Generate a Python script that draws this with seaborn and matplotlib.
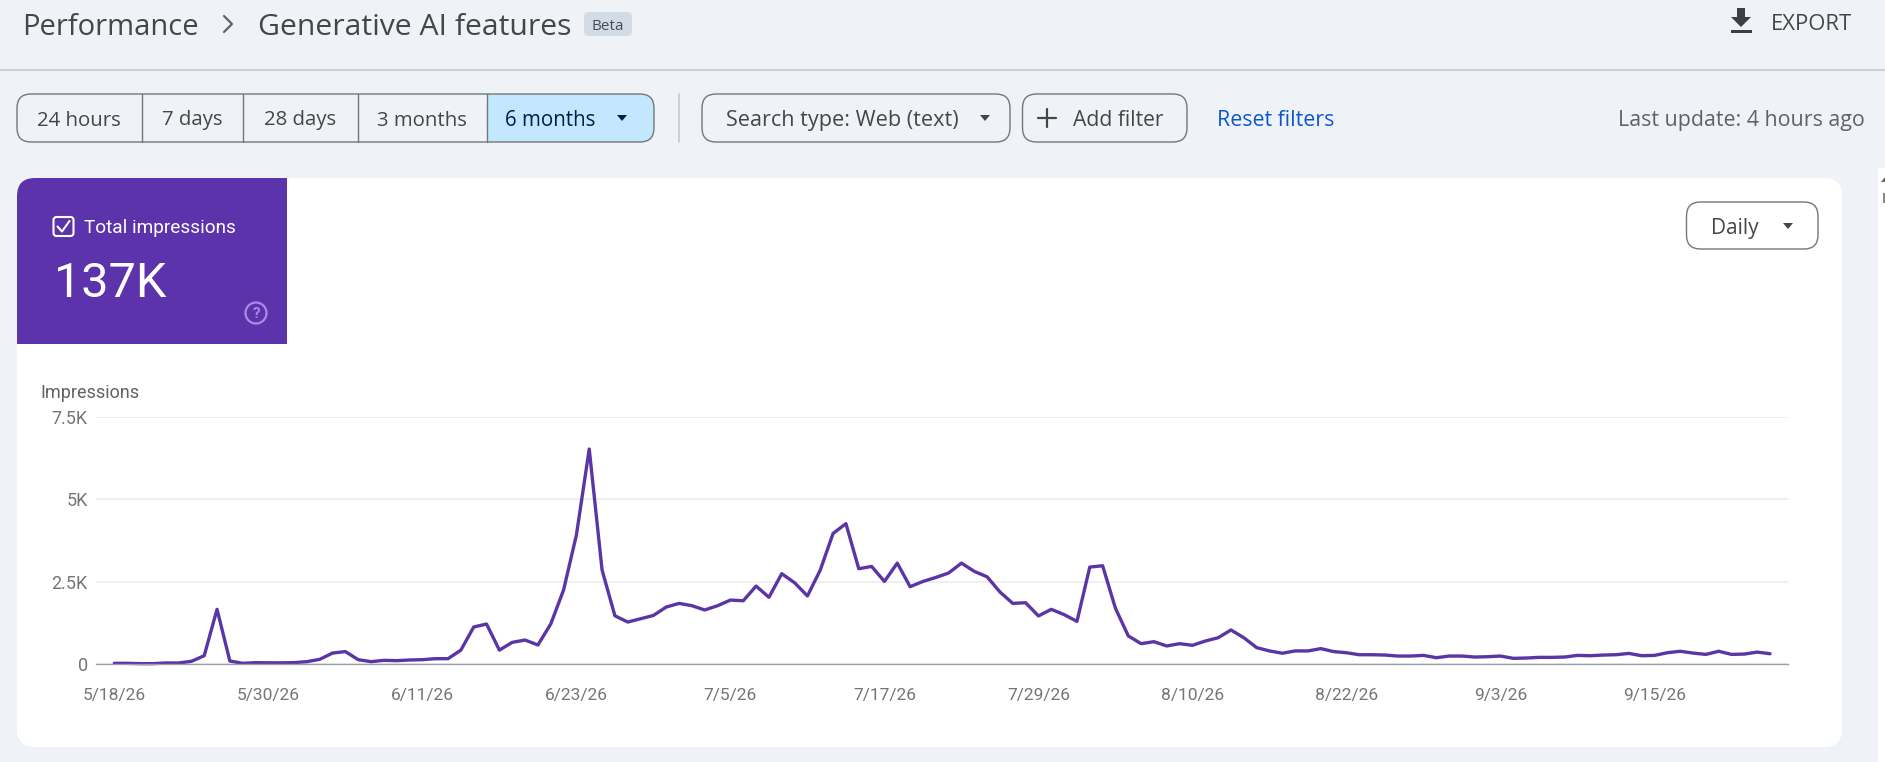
import pandas as pd
import numpy as np
import matplotlib
matplotlib.use('Agg')
import matplotlib.pyplot as plt
from matplotlib.patches import FancyBboxPatch, Rectangle, Circle, Polygon
import seaborn as sns

# daily impressions, 5/18/26 .. 9/24/26
impressions = [
    30, 30, 20, 20, 40, 40, 90, 260, 1665, 100,
    30, 50, 45, 45, 50, 80, 150, 340, 385, 140,
    80, 120, 110, 130, 140, 170, 170, 430, 1130, 1220,
    430, 665, 735, 585, 1220, 2250, 3915, 6520, 2855, 1470,
    1280, 1380, 1480, 1735, 1845, 1775, 1645, 1775, 1945, 1925,
    2370, 2030, 2745, 2470, 2070, 2855, 3965, 4260, 2895, 2965,
    2510, 3065, 2350, 2510, 2630, 2765, 3065, 2815, 2650, 2190,
    1845, 1865, 1465, 1665, 1505, 1300, 2945, 2985, 1695, 860,
    625, 685, 555, 625, 575, 705, 805, 1040, 805, 505,
    405, 335, 405, 405, 475, 385, 350, 290, 290, 280,
    250, 250, 270, 200, 250, 250, 220, 230, 250, 180,
    190, 210, 210, 220, 270, 260, 280, 290, 330, 260,
    270, 350, 395, 340, 300, 395, 300, 310, 370, 320,
]
dates = pd.date_range('2026-05-18', periods=len(impressions), freq='D')

x_ticks = pd.to_datetime(['2026-05-18', '2026-05-30', '2026-06-11', '2026-06-23', '2026-07-05', '2026-07-17',
                          '2026-07-29', '2026-08-10', '2026-08-22', '2026-09-03', '2026-09-15'])
x_tick_labels = ['5/18/26', '5/30/26', '6/11/26', '6/23/26', '7/5/26', '7/17/26',
                 '7/29/26', '8/10/26', '8/22/26', '9/3/26', '9/15/26']
y_ticks = [0, 2500, 5000, 7500]
y_tick_labels = ['0', '2.5K', '5K', '7.5K']

range_labels = ['24 hours', '7 days', '28 days', '3 months']

PAGE = '#eff3f8'
PURPLE = '#5c33aa'
LINE = '#5b35a5'
DARK = '#444746'
GRAY = '#757575'

sns.set_theme(style='white')
plt.rcParams['font.family'] = ['Roboto', 'DejaVu Sans']

W, H = 1885, 762
fig = plt.figure(figsize=(W / 100, H / 100), dpi=100, facecolor=PAGE)

# page chrome, drawn in pixel coordinates
ui = fig.add_axes([0, 0, 1, 1])
ui.set_xlim(0, W)
ui.set_ylim(H, 0)
ui.axis('off')


def box(x0, y0, x1, y1, r, fc='none', ec='none', lw=1.0, z=1):
    p = FancyBboxPatch((x0 + r, y0 + r), x1 - x0 - 2 * r, y1 - y0 - 2 * r,
                       boxstyle=f'round,pad={r},rounding_size={r}', fc=fc, ec=ec, lw=lw, zorder=z)
    ui.add_patch(p)
    return p


def label(x, y, s, size, color=DARK, ha='center', **kw):
    ui.text(x, y, s, fontsize=size, color=color, ha=ha, va='center_baseline', zorder=5, **kw)


def caret(x, y, color=DARK, w=5):
    ui.add_patch(Polygon([(x - w, y - 3), (x + w, y - 3), (x, y + 3)], fc=color, ec='none', zorder=5))


# header
ui.plot([0, W], [69.5, 69.5], color='#c5c9cd', lw=1.2)
label(22, 24, 'Performance', 21, ha='left', family='Open Sans')
ui.plot([224, 232, 224], [16, 24, 32], color='#5f6368', lw=1.6)
label(258, 24, 'Generative AI features', 21.7, ha='left', family='Open Sans', fontweight='medium')
box(584, 12, 632, 36, 5, fc='#d3dbe6')
label(608, 24, 'Beta', 11, color='#444c56', family='Open Sans')
ui.add_patch(Rectangle((1731, 30), 21, 3, fc='#3c4043', ec='none'))
ui.add_patch(Polygon([(1737, 8), (1745, 8), (1745, 17), (1751, 17), (1741, 27), (1731, 17), (1737, 17)], fc='#3c4043', ec='none'))
label(1771, 22, 'EXPORT', 15.8, ha='left', color='#444746', family='Open Sans')

# date range group
box(17, 94, 654, 142, 14, fc='none', ec='#747775', lw=1.0, z=3)
active = box(486.6, 94, 654, 142, 14, fc='#c2e7ff', z=1)
ui.add_patch(Rectangle((486.6, 94), 30, 48, fc='#c2e7ff', ec='none', zorder=1))
for xd in [141.5, 243.3, 358, 486.6]:
    ui.plot([xd, xd], [94, 142], color='#747775', lw=1.0, zorder=3)
for xc, s in zip([79, 192, 300, 422], range_labels):
    label(xc, 118, s, 14.7, family='Open Sans')
label(505, 118, '6 months', 14.8, ha='left', color='#041e49', family='Open Sans')
caret(622, 118, '#041e49')
ui.plot([679, 679], [94, 142], color='#c5c9cd', lw=1.2)

# filters
box(702, 94, 1010, 142, 14, ec='#747775', lw=1.0)
label(726, 118, 'Search type: Web (text)', 15.6, ha='left', family='Open Sans')
caret(985, 118)
box(1022.5, 94, 1187, 142, 14, ec='#747775', lw=1.0)
ui.plot([1038, 1056], [118, 118], color=DARK, lw=1.6)
ui.plot([1047, 1047], [109, 127], color=DARK, lw=1.6)
label(1073, 118, 'Add filter', 15.2, ha='left', family='Open Sans')
label(1217, 118, 'Reset filters', 15.4, ha='left', color='#0b57d0', family='Open Sans', fontweight='medium')
label(1865, 118, 'Last update: 4 hours ago', 15.4, ha='right', color='#5f6368', family='Open Sans')

# card and metric tile
box(17, 178, 1842, 747, 18, fc='white')
box(17, 178, 60, 240, 18, fc=PURPLE, z=2)
ui.add_patch(Rectangle((35, 178), 252, 166, fc=PURPLE, ec='none', zorder=2))
ui.add_patch(Rectangle((17, 196), 30, 148, fc=PURPLE, ec='none', zorder=2))
box(53.5, 217, 73.5, 236, 3, ec='white', lw=1.5, z=3)
ui.plot([57.5, 62, 69.5], [226.5, 231.5, 221], color='white', lw=1.5, zorder=4)
label(83.5, 226, 'Total impressions', 13.7, ha='left', color='white')
label(54, 279, '137K', 35, ha='left', color='white')
ui.add_patch(Circle((256, 313), 10.5, fc='none', ec='#a98be6', lw=1.6, zorder=4))
label(256, 313, '?', 11, color='#a98be6', fontweight='bold')

box(1686.5, 202, 1818, 249, 14, fc='white', ec='#747775', lw=1.0, z=3)
label(1735, 226, 'Daily', 15, family='Open Sans')
caret(1788, 226)

# edge of the scrollbar at the right of the screenshot
ui.add_patch(Rectangle((1878, 168), 7, H - 168, fc='white', ec='none'))
ui.add_patch(Polygon([(1881, 182), (1885, 177), (1885, 182)], fc='#666666', ec='none', zorder=5))
ui.add_patch(Rectangle((1883, 193), 2, 10, fc='#888888', ec='none', zorder=5))

ui.text(40, 391, 'Impressions', fontsize=13, color='#5f6368', ha='left', va='center_baseline', zorder=5)

# chart
px_left, px_right = 96, 1788
px_top, px_zero = 416.7, 664.3
ax = fig.add_axes([px_left / W, 1 - px_zero / H, (px_right - px_left) / W, (px_zero - px_top) / H])
ax.patch.set_alpha(0)

df = pd.DataFrame({'date': dates, 'impressions': impressions})
sns.lineplot(data=df, x='date', y='impressions', color=LINE, linewidth=2.4, ax=ax, clip_on=False)

day = pd.Timedelta(days=1)
ax.set_xlim(dates[0] - 1.43 * day, dates[0] + 130.4 * day)
ax.set_ylim(0, 7500)
ax.set_xticks(x_ticks)
ax.set_xticklabels(x_tick_labels, fontsize=12.5, color=GRAY)
ax.set_yticks(y_ticks)
ax.set_yticklabels(y_tick_labels, fontsize=13, color=GRAY)
ax.tick_params(axis='x', length=0, pad=17)
ax.tick_params(axis='y', length=0, pad=6)
ax.set_xlabel('')
ax.set_ylabel('')
ax.grid(axis='y', color='#eeeeee', lw=1.3)
ax.set_axisbelow(True)
for side in ['top', 'right', 'left']:
    ax.spines[side].set_visible(False)
ax.spines['bottom'].set_color('#9aa0a6')
ax.spines['bottom'].set_linewidth(1.0)

fig.savefig('out.png', dpi=100, facecolor=PAGE)
